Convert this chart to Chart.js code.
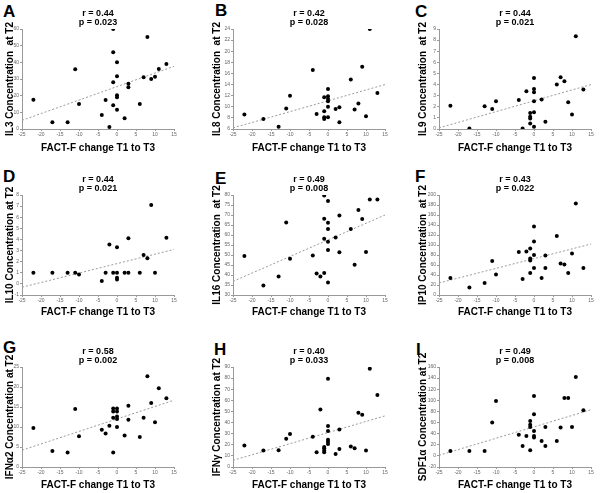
<!DOCTYPE html>
<html>
<head>
<meta charset="utf-8">
<script src="https://cdn.jsdelivr.net/npm/chart.js@4.4.1/dist/chart.umd.min.js"></script>
<style>
  body { margin: 0; background: #fff; }
  #wrap { position: relative; width: 600px; height: 493px; overflow: hidden; }
  #wrap canvas { position: absolute; }
  .tag { position: absolute; font: bold 17px "Liberation Sans", Arial, sans-serif; line-height: 17px; color: #000; }
</style>
</head>
<body>
<div id="wrap"></div>
<script>
/* ---------- data ---------- */

const fitX = [-25, 15];

// A - IL3
const il3X = [-22,-17,-13,-11,-10,-4,-3,-2,-1,-1,-1,-1,0,0,0,0,0,2,3,3,6,7,8,9,10,11,13];
const il3Y = [17.5,4,4,35.8,15,8.4,17.4,1.2,60,46,28,14.2,40,31.6,20.2,19,11.6,6.4,27.2,25,15,31,55.2,30,31.4,36,39];
const il3Fit = [5.2, 37.6];

// B - IL8
const il8X = [-22,-17,-13,-11,-10,-4,-3,-1,-1,-1,-1,0,0,0,0,0,0,2,3,3,6,7,8,9,10,11,13];
const il8Y = [8.6,7.8,6.4,9.7,12,16.6,8.7,8.1,7.8,9.2,11.7,13.2,11.9,11.4,11,10,8.1,9.6,9.9,7.2,14.9,9.5,10.6,17.2,8.3,24,12.5];
const il8Fit = [6.2, 14];

// C - IL9
const il9X = [-22,-17,-13,-11,-10,-4,-3,-2,-1,-1,-1,-1,0,0,0,0,0,0,2,3,6,7,8,9,10,11,13];
const il9Y = [2.1,0.05,2.05,1.8,2.5,2.6,0.05,3.4,1.45,1.1,0.95,0.5,4.6,3.6,3.3,2.5,1.5,0.2,2.65,0.65,4.0,4.65,4.3,2.4,1.3,8.35,3.55];
const il9Fit = [0.1, 4.0];

// D - IL10
const il10X = [-22,-17,-13,-11,-10,-4,-3,-2,-1,0,0,0,0,2,3,3,6,7,8,9,10,13];
const il10Y = [1,1,1,1,0.85,0.25,1,3.55,1,3.3,1,0.55,0.4,1,1,4.1,1,2.6,2.3,7.1,1,4.15];
const il10Fit = [-0.3, 3.1];

// E - IL16
const il16X = [-22,-17,-13,-11,-10,-4,-3,-2,-1,-1,-1,-1,0,0,0,0,0,0,2,3,3,6,7,8,9,10,11,13];
const il16Y = [49.5,34.7,39.2,66.3,48.1,49.8,40.8,39.3,79.7,68.1,58.1,41,77,66.1,63,56.6,52.5,36.3,58.8,69.8,51.4,63,45.1,72.5,68,51.5,77.8,77.8];
const il16Fit = [36.8, 70];

// F - IP10
const ip10X = [-22,-17,-13,-11,-10,-4,-3,-2,-1,-1,-1,-1,0,0,0,0,2,3,3,6,7,8,9,10,11,13];
const ip10Y = [34,15,24,68,41,86,32,87,93,73,69,44,137,107,80,54,34,79,54,118,63,61,44,83,183,54];
const ip10Fit = [24, 102];

// G - IFNa2
const ifnaX = [-22,-17,-13,-11,-10,-4,-3,-2,-1,-1,-1,-1,0,0,0,0,0,2,3,3,6,7,8,9,10,11,13];
const ifnaY = [9.75,4,3.6,14.5,7.7,9.3,8.4,10.3,14.6,13.9,12.3,3.6,14.6,13.9,12.6,12,10,7.9,15.3,11.8,7.5,12.3,22.7,16,11.2,19.7,17.2];
const ifnaFit = [4.2, 16.7];

// H - IFNg
const ifngX = [-22,-17,-13,-11,-10,-4,-3,-2,-1,-1,-1,-1,0,0,0,0,0,0,2,3,3,6,7,8,9,10,11,13];
const ifngY = [19.3,14.8,15.1,25.4,29.6,27.2,13.3,51.7,18.1,16.9,14.8,13.3,79.5,36.9,32.3,24.5,22.7,20.8,11.8,33.8,16.3,18.4,16.9,48.9,47.1,14.8,88.5,64.7];
const ifngFit = [6, 46];

// I - SDF1a
const sdfX = [-22,-17,-13,-11,-10,-4,-3,-2,-1,-1,-1,-1,0,0,0,0,0,2,3,3,6,7,8,9,10,11,13];
const sdfY = [9,9,9,60,99,38,18,36,10,63,56,52,108,75,45,36,33,27,52,18,27,51,104,104,52,142,82];
const sdfFit = [1, 83];

const tags    = ['A','B','C','D','E','F','G','H','I'];
const yTitles = ['IL3 Concentration  at T2','IL8 Concentration  at T2','IL9 Concentration  at T2',
                 'IL10 Concentration at T2','IL16 Concentration  at T2','IP10 Concentration  at T2',
                 'IFN\u03b12 Concentration at T2','IFN\u03b3 Concentration at T2','SDF1\u03b1 Concentration at T2'];
const rValues = ['0.44','0.42','0.44','0.44','0.49','0.43','0.58','0.40','0.49'];
const pValues = ['0.023','0.028','0.021','0.021','0.008','0.022','0.002','0.033','0.008'];
const yMin    = [0, 6, 0, -1, 30, 0, 0, 0, -20];
const yMax    = [60, 24, 9, 8, 80, 200, 25, 90, 160];
const yStep   = [10, 2, 1, 1, 5, 20, 5, 10, 20];
const xTitle  = 'FACT-F change T1 to T3';

const seriesX = [il3X, il8X, il9X, il10X, il16X, ip10X, ifnaX, ifngX, sdfX];
const seriesY = [il3Y, il8Y, il9Y, il10Y, il16Y, ip10Y, ifnaY, ifngY, sdfY];
const fits    = [il3Fit, il8Fit, il9Fit, il10Fit, il16Fit, ip10Fit, ifnaFit, ifngFit, sdfFit];

/* ---------- layout ---------- */
const FONT = '"Liberation Sans", Arial, sans-serif';
const AXIS = '#999';

const colLeft  = [4, 211, 417];
const colYw    = [18, 22, 22];
const colWidth = [176, 180, 180];
const rowTop   = [0, 165, 328];
const rowPadTop = [29, 30, 39];
const rowHeight = [154, 153, 163];
const rowXh    = [25, 23, 24];

const tagPos = [[3,3],[215,2],[415,3],[3,168],[215,170],[415,168],[3,339],[214,341],[416,341]];

// r / p text above the plot area
const statsText = {
  id: 'statsText',
  afterDraw(chart, args, opts) {
    const { ctx, chartArea } = chart;
    const cx = (chartArea.left + chartArea.right) / 2;
    ctx.save();
    ctx.font = 'bold 9px ' + FONT;
    ctx.fillStyle = '#000';
    ctx.textAlign = 'center';
    ctx.textBaseline = 'middle';
    ctx.fillText('r = ' + opts.r, cx, chartArea.top - 15);
    ctx.fillText('p = ' + opts.p, cx, chartArea.top - 6.5);
    ctx.restore();
  }
};

const wrap = document.getElementById('wrap');

function drawPanel(i) {
  const col = i % 3, row = Math.floor(i / 3);

  const tag = document.createElement('div');
  tag.className = 'tag';
  tag.textContent = tags[i];
  tag.style.left = tagPos[i][0] + 'px';
  tag.style.top = tagPos[i][1] + 'px';
  wrap.appendChild(tag);

  const cv = document.createElement('canvas');
  cv.width = colWidth[col];
  cv.height = rowHeight[row];
  cv.style.left = colLeft[col] + 'px';
  cv.style.top = rowTop[row] + 'px';
  wrap.appendChild(cv);

  const yw = colYw[col], xh = rowXh[row];

  new Chart(cv, {
    type: 'scatter',
    data: {
      datasets: [{
        data: seriesX[i].map((x, k) => ({ x, y: seriesY[i][k] })),
        backgroundColor: '#000',
        borderWidth: 0,
        pointRadius: 2
      }, {
        type: 'line',
        data: fitX.map((x, k) => ({ x, y: fits[i][k] })),
        borderColor: '#9a9a9a',
        borderWidth: 1,
        borderDash: [2, 2],
        pointRadius: 0,
        fill: false
      }]
    },
    options: {
      responsive: false,
      animation: false,
      events: [],
      layout: { padding: { top: rowPadTop[row], right: 6, bottom: 0, left: 0 } },
      plugins: {
        legend: { display: false },
        tooltip: { enabled: false },
        statsText: { r: rValues[i], p: pValues[i] }
      },
      scales: {
        x: {
          type: 'linear', min: -25, max: 15,
          ticks: { stepSize: 5, autoSkip: false, maxRotation: 0, padding: 1, color: '#666', font: { size: 5, family: FONT } },
          grid: { drawOnChartArea: false, tickLength: 2, color: AXIS },
          border: { color: AXIS },
          title: { display: true, text: xTitle, color: '#000', padding: 0, font: { size: 10, weight: 'bold', family: FONT } },
          afterFit: s => { s.height = xh; }
        },
        y: {
          type: 'linear', min: yMin[i], max: yMax[i],
          ticks: { stepSize: yStep[i], autoSkip: false, padding: 1, color: '#666', font: { size: 5, family: FONT } },
          grid: { drawOnChartArea: false, tickLength: 2, color: AXIS },
          border: { color: AXIS },
          title: { display: true, text: yTitles[i], color: '#000', padding: 0, font: { size: 10, weight: 'bold', family: FONT } },
          afterFit: s => { s.width = yw; }
        }
      }
    },
    plugins: [statsText]
  });
}

for (let i = 0; i < 9; i++) drawPanel(i);
</script>
</body>
</html>
